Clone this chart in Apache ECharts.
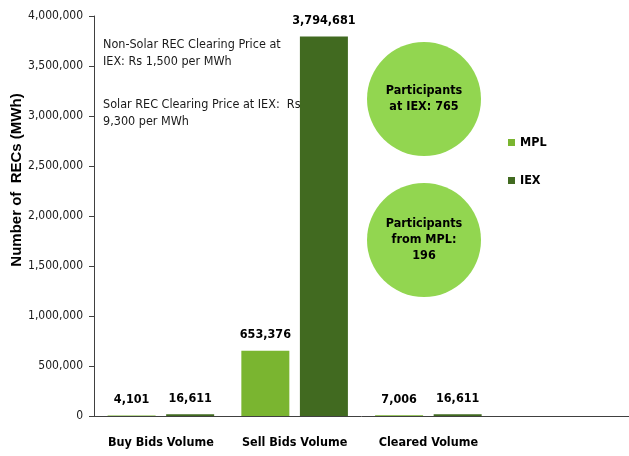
<!DOCTYPE html>
<html>
<head>
<meta charset="utf-8">
<script src="https://cdn.jsdelivr.net/npm/echarts@6/dist/echarts.min.js"></script>
<style>
    html, body { margin: 0; padding: 0; background: #fff; }
    #chart { width: 629px; height: 456px; }
</style>
</head>
<body>
<div id="chart"></div>
<script>
// values
const categories = ['Buy Bids Volume', 'Sell Bids Volume', 'Cleared Volume', ''];
const mplValues = [4101, 653376, 7006, null];
const iexValues = [16611, 3794681, 16611, null];
const yTicks = [0, 500000, 1000000, 1500000, 2000000, 2500000, 3000000, 3500000, 4000000];

const font = '"Liberation Sans Narrow", "Arial Narrow", "DejaVu Sans Condensed", sans-serif';

const chartDom = document.getElementById('chart');
const chart = echarts.init(chartDom);

const fmt = function (v) {
    return Number(v).toLocaleString('en-US');
};

const barLabel = {
    show: true,
    position: 'top',
    distance: 9,
    color: '#000',
    fontWeight: 'bold',
    fontSize: 12.5,
    fontFamily: font,
    formatter: function (p) { return fmt(p.value); }
};

const option = {
    animation: false,
    backgroundColor: '#fff',
    grid: {
        left: 94,
        right: 0,
        top: 16,
        bottom: 40
    },
    legend: {
        orient: 'vertical',
        left: 503,
        top: 131,
        itemGap: 25,
        icon: 'rect',
        itemWidth: 7,
        itemHeight: 7,
        itemStyle: { borderWidth: 0 },
        textStyle: { fontFamily: font, fontWeight: 'bold', fontSize: 12.5, color: '#000' },
        data: ['MPL', 'IEX']
    },
    xAxis: {
        type: 'category',
        data: categories,
        axisLine: { lineStyle: { color: '#404040', width: 1 } },
        axisTick: { show: false },
        axisLabel: {
            interval: 0,
            margin: 20,
            color: '#000',
            fontWeight: 'bold',
            fontSize: 12.5,
            fontFamily: font
        }
    },
    yAxis: {
        type: 'value',
        min: yTicks[0],
        max: yTicks[yTicks.length - 1],
        interval: 500000,
        splitLine: { show: false },
        axisLine: { show: true, lineStyle: { color: '#404040', width: 1 } },
        axisTick: { show: true, length: 5, lineStyle: { color: '#404040' } },
        axisLabel: {
            margin: 11,
            color: '#1a1a1a',
            fontSize: 12,
            fontFamily: font,
            formatter: fmt
        }
    },
    graphic: [
        {
            type: 'text',
            x: 17,
            y: 180,
            rotation: Math.PI / 2,
            style: {
                text: 'Number of  RECs (MWh)',
                font: 'bold 15px "Liberation Sans", Arial, sans-serif',
                fill: '#000',
                align: 'center',
                verticalAlign: 'middle'
            }
        },
        {
            type: 'text',
            x: 103,
            y: 36,
            style: {
                text: 'Non-Solar REC Clearing Price at\nIEX: Rs 1,500 per MWh',
                font: '12.5px ' + font,
                lineHeight: 17,
                fill: '#1a1a1a'
            }
        },
        {
            type: 'text',
            x: 103,
            y: 96,
            style: {
                text: 'Solar REC Clearing Price at IEX:  Rs\n9,300 per MWh',
                font: '12.5px ' + font,
                lineHeight: 17,
                fill: '#1a1a1a'
            }
        },
        {
            type: 'circle',
            shape: { cx: 424, cy: 99, r: 57 },
            style: { fill: '#92D650' }
        },
        {
            type: 'text',
            x: 424,
            y: 99,
            style: {
                text: 'Participants\nat IEX: 765',
                font: 'bold 12.5px ' + font,
                lineHeight: 16,
                fill: '#000',
                align: 'center',
                verticalAlign: 'middle'
            }
        },
        {
            type: 'circle',
            shape: { cx: 424, cy: 240, r: 57 },
            style: { fill: '#92D650' }
        },
        {
            type: 'text',
            x: 424,
            y: 240,
            style: {
                text: 'Participants\nfrom MPL:\n196',
                font: 'bold 12.5px ' + font,
                lineHeight: 16,
                fill: '#000',
                align: 'center',
                verticalAlign: 'middle'
            }
        }
    ],
    series: [
        {
            name: 'MPL',
            type: 'bar',
            barWidth: 48,
            barGap: '22%',
            itemStyle: { color: '#7AB530' },
            label: barLabel,
            data: mplValues
        },
        {
            name: 'IEX',
            type: 'bar',
            barWidth: 48,
            itemStyle: { color: '#416A20' },
            label: barLabel,
            data: iexValues
        }
    ]
};

option && chart.setOption(option);
</script>
</body>
</html>
